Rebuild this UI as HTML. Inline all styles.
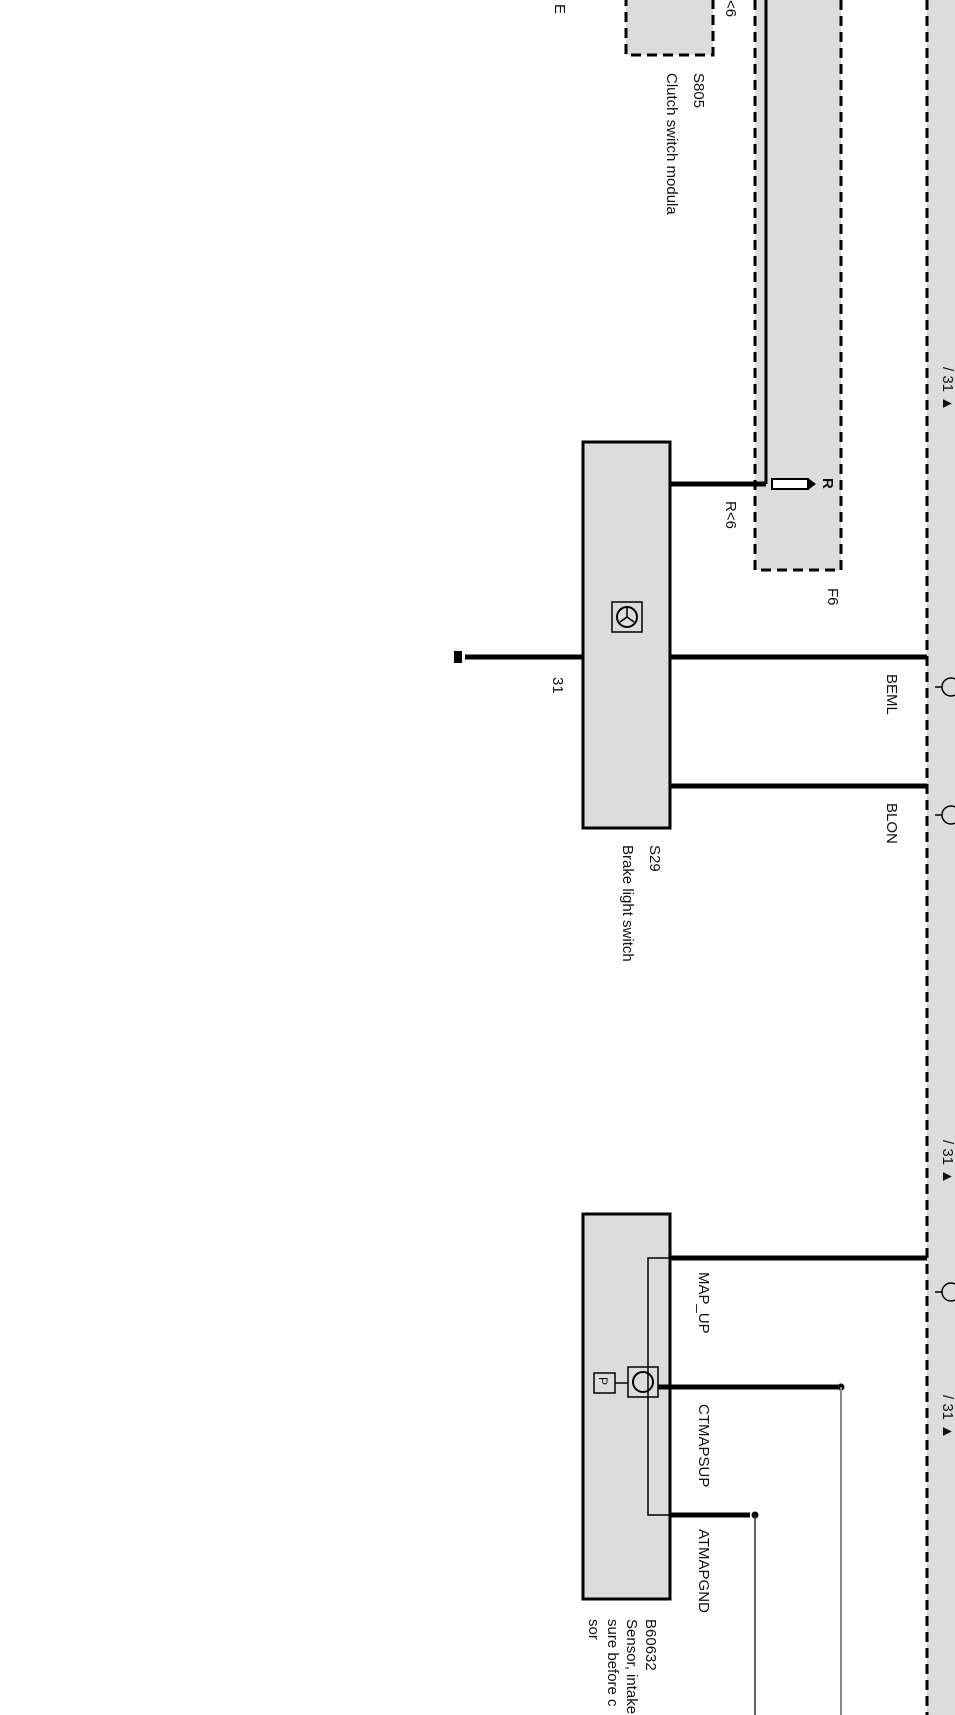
<!DOCTYPE html>
<html><head><style>
html,body{margin:0;padding:0;background:#fff;}
svg{display:block;}
text{font-family:"Liberation Sans",sans-serif;font-size:15px;fill:#111;}
</style></head><body>
<svg width="955" height="1715" viewBox="0 0 955 1715" xmlns="http://www.w3.org/2000/svg">
<rect x="927" y="-5" width="40" height="1730" fill="#dcdcdc"/>
<line x1="927" y1="0" x2="927" y2="1715" stroke="#000" stroke-width="3" stroke-dasharray="10,6"/>

<rect x="626" y="-10" width="87" height="65" fill="#dcdcdc" stroke="#000" stroke-width="3" stroke-dasharray="10,6"/>
<text transform="translate(555,4) rotate(90)">E</text>
<text transform="translate(726,0) rotate(90)">&lt;6</text>
<text transform="translate(694,73) rotate(90)">S805</text>
<text transform="translate(667,73) rotate(90)">Clutch switch modula</text>

<rect x="755" y="-10" width="86" height="580" fill="#dcdcdc" stroke="#000" stroke-width="3" stroke-dasharray="10,6"/>
<line x1="766" y1="0" x2="766" y2="484" stroke="#000" stroke-width="3"/>
<rect x="772" y="479" width="36" height="10" fill="#fff" stroke="#000" stroke-width="2"/>
<polygon points="808,478 816,484 808,490" fill="#000"/>
<text transform="translate(823,478) rotate(90)" style="font-weight:bold">R</text>
<text transform="translate(726,501) rotate(90)">R&lt;6</text>
<text transform="translate(828,588) rotate(90)">F6</text>
<line x1="670" y1="484" x2="766" y2="484" stroke="#000" stroke-width="5"/>

<rect x="583" y="442" width="87" height="386" fill="#dcdcdc" stroke="#000" stroke-width="3"/>
<rect x="612" y="602" width="30" height="30" fill="none" stroke="#000" stroke-width="1.5"/>
<circle cx="627" cy="617" r="10" fill="none" stroke="#000" stroke-width="2"/>
<line x1="627" y1="607" x2="627" y2="617" stroke="#000" stroke-width="1.5"/>
<line x1="620" y1="622" x2="627" y2="617" stroke="#000" stroke-width="1.5"/>
<line x1="634" y1="622" x2="627" y2="617" stroke="#000" stroke-width="1.5"/>
<line x1="465" y1="657" x2="583" y2="657" stroke="#000" stroke-width="5"/>
<rect x="454" y="651" width="8" height="12" fill="#000"/>
<text transform="translate(553,677) rotate(90)">31</text>
<line x1="670" y1="657" x2="927" y2="657" stroke="#000" stroke-width="5"/>
<line x1="670" y1="786" x2="927" y2="786" stroke="#000" stroke-width="5"/>
<text transform="translate(887,674) rotate(90)">BEML</text>
<text transform="translate(887,803) rotate(90)">BLON</text>
<text transform="translate(650,845) rotate(90)">S29</text>
<text transform="translate(623,845) rotate(90)">Brake light switch</text>

<g stroke="#000" stroke-width="1.5" fill="none">
<line x1="935" y1="687" x2="942" y2="687"/><circle cx="951" cy="687" r="9"/>
<line x1="935" y1="815" x2="942" y2="815"/><circle cx="951" cy="815" r="9"/>
<line x1="935" y1="1292" x2="942" y2="1292"/><circle cx="951" cy="1292" r="9"/>
</g>
<text transform="translate(943,367) rotate(90)">/ 31 ▲</text>
<text transform="translate(943,1140) rotate(90)">/ 31 ▲</text>
<text transform="translate(943,1395) rotate(90)">/ 31 ▲</text>

<rect x="583" y="1214" width="87" height="385" fill="#dcdcdc" stroke="#000" stroke-width="3"/>
<polyline points="670,1258 648,1258 648,1515 670,1515" fill="none" stroke="#000" stroke-width="1.5"/>
<rect x="628" y="1367" width="30" height="30" fill="none" stroke="#000" stroke-width="1.5"/>
<circle cx="643" cy="1382" r="10" fill="none" stroke="#000" stroke-width="2"/>
<rect x="594" y="1373" width="21" height="20" fill="none" stroke="#000" stroke-width="1.5"/>
<text transform="translate(599,1377) rotate(90)" style="font-size:12px">P</text>
<line x1="615" y1="1383" x2="628" y2="1383" stroke="#000" stroke-width="1.5"/>
<line x1="670" y1="1258" x2="927" y2="1258" stroke="#000" stroke-width="5"/>
<line x1="658" y1="1387" x2="838" y2="1387" stroke="#000" stroke-width="5"/>
<circle cx="841" cy="1387" r="3.5" fill="#000"/>
<line x1="841" y1="1387" x2="841" y2="1715" stroke="#888" stroke-width="2"/>
<line x1="670" y1="1515" x2="750" y2="1515" stroke="#000" stroke-width="5"/>
<circle cx="755" cy="1515" r="3.5" fill="#000"/>
<line x1="755" y1="1515" x2="755" y2="1715" stroke="#333" stroke-width="1.5"/>
<text transform="translate(699,1272) rotate(90)">MAP_UP</text>
<text transform="translate(699,1404) rotate(90)">CTMAPSUP</text>
<text transform="translate(699,1529) rotate(90)">ATMAPGND</text>
<text transform="translate(646,1619) rotate(90)">B60632</text>
<text transform="translate(627,1619) rotate(90)">Sensor, intake</text>
<text transform="translate(608,1619) rotate(90)">sure before c</text>
<text transform="translate(589,1619) rotate(90)">sor</text>
</svg>
</body></html>
